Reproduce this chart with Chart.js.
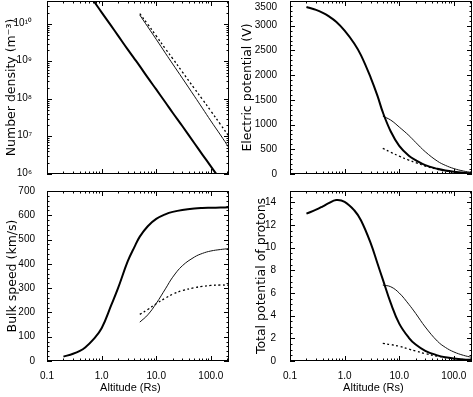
<!DOCTYPE html>
<html>
<head>
<meta charset="utf-8">
<script src="https://cdn.jsdelivr.net/npm/chart.js@4.4.1/dist/chart.umd.min.js"></script>
<style>
  html, body { margin: 0; padding: 0; background: #fff; }
  #wrap { position: relative; width: 473px; height: 397px; overflow: hidden; background: #fff; }
  #wrap canvas { position: absolute; }
</style>
</head>
<body>
<div id="wrap">
  <canvas id="densChart" width="238" height="185" style="left:0;top:0"></canvas>
  <canvas id="potChart" width="235" height="185" style="left:238px;top:0"></canvas>
  <canvas id="speedChart" width="238" height="212" style="left:0;top:185px"></canvas>
  <canvas id="protChart" width="235" height="212" style="left:238px;top:185px"></canvas>
</div>
<script>
// altitudes (Rs) of the inner model and of the two outer models
const altInner = [0.2, 0.3, 0.4, 0.5, 0.7, 1, 1.5, 2, 3, 4, 5, 7, 10, 15, 20, 30, 50, 70, 100, 150, 215];
const altOuter = [5, 7, 10, 15, 20, 30, 50, 70, 100, 150, 215];

const xTickVals = [0.1, 1, 10, 100];
const xTickLabels = ['0.1', '1.0', '10.0', '100.0'];
const densTickVals = [1e6, 1e7, 1e8, 1e9, 1e10];
const densTickLabels = ['10⁶', '10⁷', '10⁸', '10⁹', '10¹⁰'];

// number density (m^-3)
const densInner = [5.6e11, 2.4e11, 1.34e11, 8.5e10, 4.3e10, 2.04e10, 8.9e9, 4.9e9, 2.1e9, 1.18e9, 7.5e8, 3.7e8, 1.8e8, 7.8e7, 4.3e7, 1.9e7, 6.6e6, 3.3e6, 1.6e6, 6.9e5, 3.3e5];
const densSolid = [1.73e10, 8.4e9, 3.9e9, 1.6e9, 8.6e8, 3.6e8, 1.19e8, 5.7e7, 2.6e7, 1.1e7, 5.0e6];
const densDotted = [1.9e10, 9.8e9, 4.8e9, 2.1e9, 1.2e9, 5.3e8, 1.9e8, 9.8e7, 4.8e7, 2.1e7, 1.0e7];

// electric potential (V)
const potInner = [3380, 3320, 3260, 3200, 3080, 2900, 2640, 2400, 1950, 1580, 1250, 860, 570, 370, 280, 180, 105, 70, 45, 25, 14];
const potSolid = [1170, 1090, 950, 780, 640, 450, 260, 175, 110, 60, 30];
const potDotted = [520, 440, 360, 280, 230, 160, 95, 65, 40, 22, 12];

// bulk speed (km/s)
const speedInner = [18, 30, 42, 56, 88, 135, 230, 300, 410, 470, 512, 555, 585, 605, 614, 622, 628, 630, 631, 632, 633];
const speedSolid = [160, 190, 237, 300, 345, 392, 428, 443, 453, 459, 463];
const speedDotted = [192, 212, 236, 260, 275, 290, 302, 307, 311, 313, 312];

// total potential of protons
const protInner = [13.0, 13.35, 13.65, 13.9, 14.2, 14.05, 13.3, 12.4, 10.4, 8.6, 7.2, 5.1, 3.3, 2.05, 1.45, 0.9, 0.5, 0.33, 0.22, 0.14, 0.1];
const protSolid = [6.7, 6.55, 6.0, 5.0, 4.2, 3.0, 1.75, 1.2, 0.8, 0.5, 0.32];
const protDotted = [1.55, 1.45, 1.3, 1.05, 0.88, 0.65, 0.42, 0.3, 0.2, 0.13, 0.08];

Chart.defaults.color = '#000';
const sans = '"Liberation Sans", Arial, sans-serif';
const tickFont = { family: sans, size: 10 };

const pts = (xs, ys) => xs.map((x, i) => ({ x, y: ys[i] }));

// box around the plot with inward ticks on all four sides
const frameTicks = {
  id: 'frameTicks',
  afterDraw(chart, args, o) {
    const { ctx, chartArea: a, scales: { x, y } } = chart;
    ctx.save();
    ctx.strokeStyle = '#000';
    ctx.lineWidth = 1;
    ctx.beginPath();
    for (let d = -1; d <= 2; d++) {
      for (let m = 1; m <= 9; m++) {
        const v = m * Math.pow(10, d);
        if (v < x.min || v > x.max) continue;
        const px = Math.round(x.getPixelForValue(v)) + 0.5;
        const len = m === 1 ? 5 : 2.5;
        ctx.moveTo(px, a.bottom); ctx.lineTo(px, a.bottom - len);
        ctx.moveTo(px, a.top); ctx.lineTo(px, a.top + len);
      }
    }
    const yt = [];
    if (o.logY) {
      for (let d = 5; d <= 11; d++) {
        for (let m = 1; m <= 9; m++) {
          const v = m * Math.pow(10, d);
          if (v >= y.min && v <= y.max) yt.push({ v, major: m === 1 });
        }
      }
    } else {
      for (let v = y.min; v <= y.max + 1e-9; v += o.minor) {
        yt.push({ v, major: Math.abs(v / o.major - Math.round(v / o.major)) < 1e-6 });
      }
    }
    yt.forEach(t => {
      const py = Math.round(y.getPixelForValue(t.v)) + 0.5;
      const len = t.major ? 5 : 2.5;
      ctx.moveTo(a.left, py); ctx.lineTo(a.left + len, py);
      ctx.moveTo(a.right, py); ctx.lineTo(a.right - len, py);
    });
    ctx.stroke();
    ctx.strokeRect(a.left + 0.5, a.top + 0.5, a.right - a.left - 1, a.bottom - a.top - 1);
    ctx.restore();
  }
};
Chart.register(frameTicks);

// keep labels from eating into the plot box
const noPad = s => { s.paddingLeft = 0; s.paddingRight = 0; s.paddingTop = 0; s.paddingBottom = 0; };

function makePanel(id, p) {
  const datasets = [
    { data: pts(altInner, p.inner), borderColor: '#000', borderWidth: 2 },
    { data: pts(altOuter, p.solid), borderColor: '#111', borderWidth: 1 },
    { data: pts(altOuter, p.dotted), borderColor: '#000', borderWidth: 1.3, borderDash: [2, 2.5] }
  ];
  return new Chart(document.getElementById(id).getContext('2d'), {
    type: 'line',
    data: { datasets },
    options: {
      responsive: false,
      animation: false,
      layout: { padding: p.pad, autoPadding: false },
      elements: { point: { radius: 0 }, line: { tension: 0.4 } },
      plugins: { legend: { display: false }, tooltip: { enabled: false }, frameTicks: p.frame },
      scales: {
        x: {
          type: 'logarithmic', min: 0.1, max: 215,
          grid: { display: false }, border: { display: false },
          afterBuildTicks: s => { s.ticks = xTickVals.map(v => ({ value: v })); },
          afterFit: s => { s.height = p.xh; noPad(s); },
          ticks: { display: p.showX, autoSkip: false, maxRotation: 0, padding: 1, font: tickFont,
                   callback: (v, i) => xTickLabels[i] },
          title: { display: p.showX, text: 'Altitude (Rs)     ', font: { family: sans, size: 11 },
                   padding: { top: 0, bottom: 2.5 } }
        },
        y: {
          type: p.logY ? 'logarithmic' : 'linear', min: p.yMin, max: p.yMax,
          grid: { display: false }, border: { display: false },
          afterBuildTicks: s => { s.ticks = p.yTicks.map(v => ({ value: v })); },
          afterFit: s => { s.width = p.yw; noPad(s); },
          ticks: { autoSkip: false, padding: p.yPad, font: tickFont, labelOffset: p.yLabelShift || 0,
                   callback: (v, i) => (p.pushTop && i === p.yTicks.length - 1) ? ['', p.yLabels[i]] : p.yLabels[i] },
          title: { display: true, text: p.title, font: { family: 'DejaVu Sans', size: 12.5 },
                   padding: { top: p.titlePad, bottom: 0 } }
        }
      }
    }
  });
}

const potTicks = [0, 500, 1000, 1500, 2000, 2500, 3000, 3500];
const speedTicks = [0, 100, 200, 300, 400, 500, 600, 700];
const protTicks = [0, 2, 4, 6, 8, 10, 12, 14];

makePanel('densChart', {
  inner: densInner, solid: densSolid, dotted: densDotted,
  pad: { left: 0, right: 9, top: 1, bottom: 0 }, xh: 11, yw: 47, showX: false,
  logY: true, yMin: 1e6, yMax: 4.1e10, yTicks: densTickVals, yLabels: densTickLabels, yPad: 7, yLabelShift: -1,
  title: 'Number density (m⁻³)', titlePad: 4, frame: { logY: true }
});
makePanel('potChart', {
  inner: potInner, solid: potSolid, dotted: potDotted,
  pad: { left: 0, right: 1, top: 1, bottom: 0 }, xh: 11, yw: 52, showX: false, pushTop: true,
  logY: false, yMin: 0, yMax: 3500, yTicks: potTicks, yLabels: potTicks.map(String), yPad: 5,
  title: 'Electric potential (V)', titlePad: 2.5, frame: { minor: 100, major: 500 }
});
makePanel('speedChart', {
  inner: speedInner, solid: speedSolid, dotted: speedDotted,
  pad: { left: 0, right: 9, top: 6, bottom: 0 }, xh: 36, yw: 47, showX: true,
  logY: false, yMin: 0, yMax: 700, yTicks: speedTicks, yLabels: speedTicks.map(String), yPad: 4,
  title: 'Bulk speed (km/s)', titlePad: 5, frame: { minor: 20, major: 100 }
});
makePanel('protChart', {
  inner: protInner, solid: protSolid, dotted: protDotted,
  pad: { left: 0, right: 1, top: 6, bottom: 0 }, xh: 36, yw: 52, showX: true,
  logY: false, yMin: 0, yMax: 15, yTicks: protTicks, yLabels: protTicks.map(String), yPad: 6,
  title: 'Total potential of protons', titlePad: 16.5, frame: { minor: 0.5, major: 2 }
});
</script>
</body>
</html>
